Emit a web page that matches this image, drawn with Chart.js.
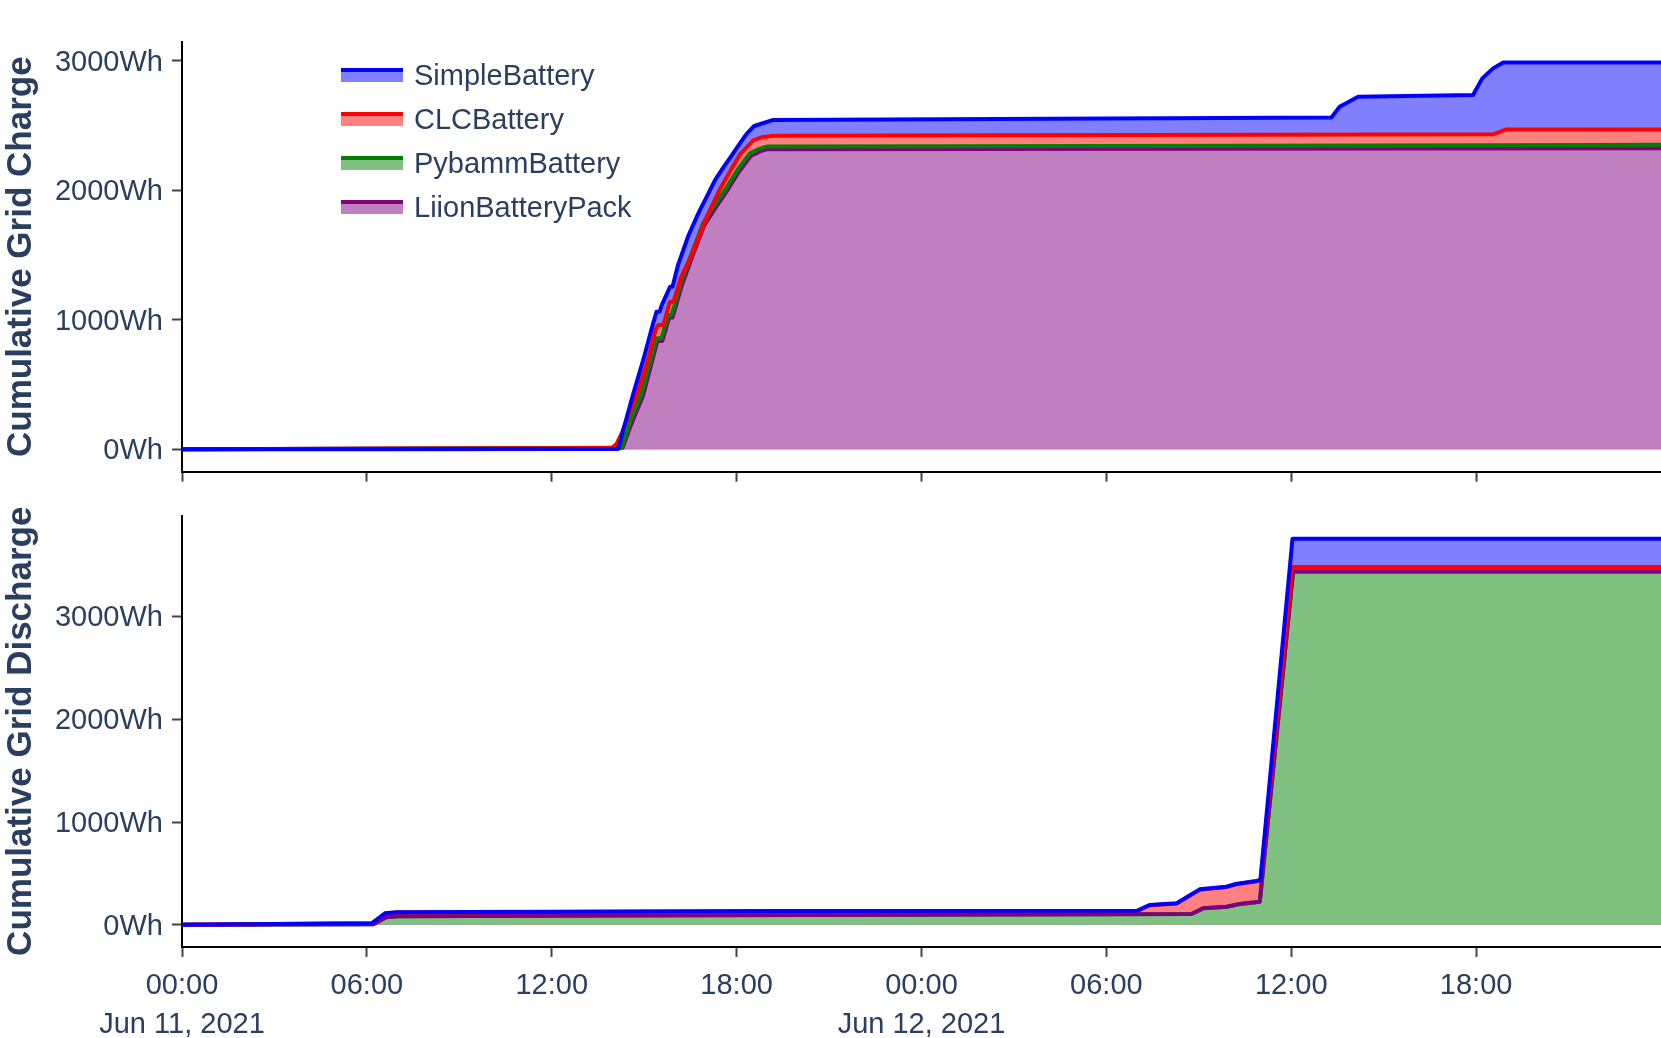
<!DOCTYPE html>
<html>
<head>
<meta charset="utf-8">
<script src="https://cdn.jsdelivr.net/npm/chart.js@4.4.1/dist/chart.umd.min.js"></script>
<style>
  html, body { margin: 0; padding: 0; background: #fff; width: 1661px; height: 1038px; overflow: hidden; }
  #wrap { position: relative; width: 1661px; height: 1038px; }
  #cTop { position: absolute; left: 0; top: 0; }
  #cBottom { position: absolute; left: 0; top: 500px; }
  #legend { position: absolute; left: 341px; top: 53.3px; z-index: 2;
    font-family: "Liberation Sans", Arial, sans-serif; font-size: 29px; color: #2a3f5f; }
  .item { display: flex; align-items: center; height: 43.9px; line-height: 32px; white-space: nowrap; }
  .sw { display: inline-block; width: 62px; height: 10px; border-top: 4px solid; margin-right: 11px; }
</style>
</head>
<body>
<div id="wrap">
  <canvas id="cTop" width="1661" height="500"></canvas>
  <canvas id="cBottom" width="1661" height="538"></canvas>
  <div id="legend"></div>
</div>
<script>
// ---------- series ----------
const seriesNames = ['SimpleBattery', 'CLCBattery', 'PybammBattery', 'LiionBatteryPack'];
const lineColors  = ['#0000ff', '#ff0000', '#008000', '#800080'];
const fillColors  = ['#8080ff', '#ff8080', '#80c080', '#c080c0'];

// ---------- axis ticks / ranges ----------
const xTickHours = [0, 6, 12, 18, 24, 30, 36, 42];
const xTickTimes = ['00:00', '06:00', '12:00', '18:00', '00:00', '06:00', '12:00', '18:00'];
const xTickDates = ['Jun 11, 2021', '', '', '', 'Jun 12, 2021', '', '', ''];
const xRangeHours = [0, 48];
const yTicksWh = [0, 1000, 2000, 3000];
const yRangeChargeWh = [-173, 3147];
const yRangeDischargeWh = [-215, 3981];

// ---------- Cumulative Grid Charge (hours since Jun 11 00:00, Wh) ----------
const chargeSimpleHours = [0, 6, 12, 14.16, 14.32, 14.65, 14.97, 15.29, 15.40, 15.50, 15.57, 15.70, 15.84, 15.92, 16.10, 16.44, 16.78, 17.06, 17.30, 17.57, 17.81, 18.09, 18.33, 18.57, 19.19, 37.30, 37.57, 38.17, 41.90, 42.20, 42.55, 42.88, 48];
const chargeSimpleWh    = [0, 1, 2, 3, 149, 432, 690, 973, 1062, 1062, 1114, 1180, 1255, 1255, 1424, 1653, 1833, 1964, 2079, 2176, 2258, 2356, 2438, 2496, 2543, 2561, 2645, 2722, 2735, 2864, 2941, 2986, 2986];

const chargeClcHours = [0, 12, 13.95, 14.10, 14.27, 14.78, 15.10, 15.38, 15.46, 15.62, 15.84, 15.95, 16.20, 16.56, 17.00, 17.46, 17.80, 18.10, 18.54, 18.85, 19.20, 42.55, 42.98, 48];
const chargeClcWh    = [0, 8, 12, 40, 123, 432, 671, 930, 960, 960, 1140, 1140, 1330, 1513, 1780, 2010, 2150, 2275, 2385, 2412, 2420, 2432, 2470, 2470];

const chargePybammHours = [0, 12, 14.20, 14.27, 14.56, 14.92, 15.40, 15.56, 15.78, 15.89, 16.20, 16.54, 16.92, 17.30, 17.67, 18.05, 18.43, 18.75, 18.97, 30, 42.5, 48];
const chargePybammWh    = [0, 8, 10, 12, 226, 432, 857, 857, 1037, 1037, 1290, 1513, 1750, 1890, 2020, 2165, 2285, 2322, 2337, 2342, 2347, 2352];

const chargeLiionHours = [0, 12, 14.25, 14.30, 14.60, 14.96, 15.43, 15.59, 15.81, 15.92, 16.23, 16.57, 16.95, 17.33, 17.70, 18.08, 18.46, 18.78, 19.00, 48];
const chargeLiionWh    = [0, 10, 12, 12, 206, 412, 837, 837, 1017, 1017, 1270, 1493, 1730, 1870, 2000, 2145, 2265, 2302, 2317, 2324];

// ---------- Cumulative Grid Discharge ----------
const dischargeSimpleHours = [0, 6.16, 6.59, 6.97, 19.40, 31.00, 31.40, 32.28, 33.03, 33.90, 34.20, 34.87, 35.00, 36.04, 48];
const dischargeSimpleWh    = [0, 15, 112, 122, 134, 137, 193, 209, 345, 371, 397, 426, 436, 3755, 3755];

const dischargeClcHours = [0, 6.16, 6.59, 6.97, 19.40, 31.00, 31.40, 32.28, 33.03, 33.90, 34.20, 34.87, 35.00, 36.04, 48];
const dischargeClcWh    = [0, 15, 110, 120, 132, 135, 190, 206, 342, 368, 394, 423, 433, 3482, 3482];

const dischargePybammHours = [0, 6.21, 6.64, 7.00, 16.80, 32.76, 33.14, 33.90, 34.33, 34.98, 36.06, 48];
const dischargePybammWh    = [0, 5, 75, 83, 92, 105, 160, 176, 202, 225, 3438, 3438];

const dischargeLiionHours = [0, 6.21, 6.64, 7.00, 16.80, 32.76, 33.14, 33.90, 34.33, 34.98, 36.06, 48];
const dischargeLiionWh    = [0, 5, 75, 83, 92, 105, 160, 176, 202, 225, 3438, 3438];

// ---------- styling ----------
const FONT = '"Liberation Sans", Arial, sans-serif';
const TEXT = '#2a3f5f';
Chart.defaults.font.family = FONT;
Chart.defaults.color = TEXT;

function pts(h, w) { return h.map((x, i) => ({ x: x, y: w[i] })); }

function makeDatasets(hoursList, whList, fillOrder, lineOrder) {
  const ds = [];
  seriesNames.forEach((name, i) => {
    const data = pts(hoursList[i], whList[i]);
    ds.push({ label: name + ' (fill)', data: data, fill: 'origin', backgroundColor: fillColors[i],
      borderColor: 'rgba(0,0,0,0)', borderWidth: 0, pointRadius: 0, pointHoverRadius: 0, tension: 0, order: fillOrder[i] });
    ds.push({ label: name, data: data, fill: false, borderColor: lineColors[i], backgroundColor: fillColors[i],
      borderWidth: 4, pointRadius: 0, pointHoverRadius: 0, tension: 0, borderJoinStyle: 'round', order: lineOrder[i] });
  });
  return ds;
}

const gridOpts = { drawOnChartArea: false, drawTicks: true, tickLength: 10, tickWidth: 2, tickColor: '#444' };
const borderOpts = { display: true, color: '#000', width: 2 };

function xScale(showLabels, height) {
  return {
    type: 'linear', min: xRangeHours[0], max: xRangeHours[1],
    afterBuildTicks: s => { s.ticks = xTickHours.map(v => ({ value: v })); },
    afterFit: s => { s.height = height; s.paddingLeft = 0; s.paddingRight = 0; },
    ticks: {
      display: showLabels, autoSkip: false, maxRotation: 0, minRotation: 0, padding: 10, color: TEXT,
      font: { family: FONT, size: 29, lineHeight: 1.345 },
      callback: (v) => { const i = xTickHours.indexOf(v); return xTickDates[i] ? [xTickTimes[i], xTickDates[i]] : xTickTimes[i]; }
    },
    grid: gridOpts, border: borderOpts
  };
}

function yScale(range, title) {
  return {
    type: 'linear', min: range[0], max: range[1],
    afterBuildTicks: s => { s.ticks = yTicksWh.map(v => ({ value: v })); },
    afterFit: s => { s.width = 182; s.paddingTop = 0; s.paddingBottom = 0; },
    ticks: { padding: 9, labelOffset: 2, color: TEXT, font: { family: FONT, size: 29 }, callback: v => v + 'Wh' },
    grid: gridOpts, border: borderOpts,
    title: { display: true, text: title, color: TEXT, font: { family: FONT, size: 35, weight: 'bold' }, padding: { top: 0, bottom: 0 } }
  };
}

function makeChart(canvasId, datasets, xs, ys, padTop) {
  return new Chart(document.getElementById(canvasId), {
    type: 'line',
    data: { datasets: datasets },
    options: {
      responsive: false, animation: false, devicePixelRatio: 1,
      layout: { padding: { top: padTop, left: 0, right: 0, bottom: 0 } },
      plugins: { legend: { display: false }, tooltip: { enabled: false } },
      scales: { x: xs, y: ys }
    }
  });
}

makeChart('cTop',
  makeDatasets([chargeSimpleHours, chargeClcHours, chargePybammHours, chargeLiionHours],
               [chargeSimpleWh, chargeClcWh, chargePybammWh, chargeLiionWh],
               [8, 7, 6, 5], [1, 2, 3, 4]),
  xScale(false, 28.3), yScale(yRangeChargeWh, 'Cumulative Grid Charge'), 41.7);

makeChart('cBottom',
  makeDatasets([dischargeSimpleHours, dischargeClcHours, dischargePybammHours, dischargeLiionHours],
               [dischargeSimpleWh, dischargeClcWh, dischargePybammWh, dischargeLiionWh],
               [8, 7, 5, 6], [1, 2, 4, 3]),
  xScale(true, 91.1), yScale(yRangeDischargeWh, 'Cumulative Grid Discharge'), 15.6);

// ---------- HTML legend built from the series arrays ----------
const legendEl = document.getElementById('legend');
seriesNames.forEach((name, i) => {
  const row = document.createElement('div'); row.className = 'item';
  const sw = document.createElement('span'); sw.className = 'sw';
  sw.style.borderTopColor = lineColors[i]; sw.style.background = fillColors[i];
  const tx = document.createElement('span'); tx.textContent = name;
  row.appendChild(sw); row.appendChild(tx); legendEl.appendChild(row);
});
</script>
</body>
</html>
